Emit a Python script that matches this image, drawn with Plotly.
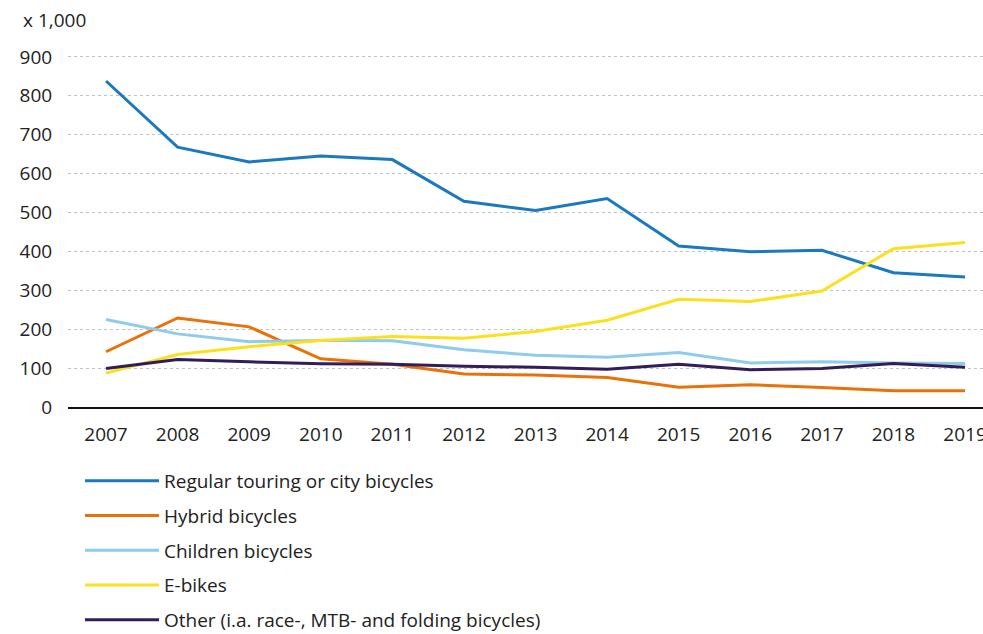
import plotly.graph_objects as go

years = list(range(2007, 2020))

regular = [838, 668, 630, 645, 636, 529, 505, 536, 414, 399, 403, 345, 334]
hybrid = [142, 229, 206, 124, 110, 85, 82, 76, 51, 57, 50, 42, 42]
children = [225, 188, 168, 171, 170, 147, 133, 128, 140, 113, 116, 113, 112]
ebikes = [87, 135, 155, 171, 181, 177, 194, 223, 277, 271, 298, 407, 423]
other = [99, 122, 116, 111, 110, 105, 102, 97, 110, 96, 99, 112, 102]

series_names = [
    "Regular touring or city bicycles",
    "Hybrid bicycles",
    "Children bicycles",
    "E-bikes",
    "Other (i.a. race-, MTB- and folding bicycles)",
]
series_values = [regular, hybrid, children, ebikes, other]
series_colors = ["#1a79bf", "#e8710a", "#8fcbea", "#fbe01e", "#321d58"]

y_ticks = [0, 100, 200, 300, 400, 500, 600, 700, 800, 900]

FONT = "Open Sans"
TEXT = "#222222"
SIZE = 19

fig = go.Figure()
for i, (name, vals, col) in enumerate(zip(series_names, series_values, series_colors)):
    fig.add_trace(go.Scatter(
        x=years, y=vals, name=name, mode="lines",
        line=dict(color=col, width=3),
        legendgroup=f"g{i}",
    ))

fig.update_layout(
    width=983, height=634,
    margin=dict(l=68, r=0, t=53, b=227, autoexpand=False),
    paper_bgcolor="white", plot_bgcolor="white",
    font=dict(family=FONT, size=SIZE, color=TEXT),
    showlegend=True,
    legend=dict(
        x=(80 - 68) / 915, xanchor="left",
        y=(407 - 462) / 354, yanchor="top",
        traceorder="grouped", tracegroupgap=7,
        itemwidth=74,
        font=dict(family=FONT, size=SIZE, color=TEXT),
        bgcolor="rgba(0,0,0,0)",
    ),
    xaxis=dict(
        range=[2006.469, 2019.251],
        tickmode="array", tickvals=years,
        ticks="outside", ticklen=9, tickcolor="rgba(0,0,0,0)",
        ticklabeloverflow="allow",
        showgrid=False, zeroline=False,
        showline=True, linecolor="#111111", linewidth=2,
        tickfont=dict(family=FONT, size=SIZE, color=TEXT),
        automargin=False, fixedrange=True,
    ),
    yaxis=dict(
        range=[0, 910],
        tickmode="array", tickvals=y_ticks,
        ticks="outside", ticklen=11, tickcolor="rgba(0,0,0,0)",
        showgrid=True, gridcolor="#c2c2c2", gridwidth=1, griddash="dot",
        zeroline=False, showline=False,
        tickfont=dict(family=FONT, size=SIZE, color=TEXT),
        automargin=False, fixedrange=True,
    ),
    annotations=[dict(
        text="x 1,000", xref="paper", yref="paper",
        x=-(68 - 21) / 915, y=(407 - 20) / 354,
        xanchor="left", yanchor="middle", showarrow=False,
        font=dict(family=FONT, size=SIZE, color=TEXT),
    )],
)

fig.write_html("out.html")
